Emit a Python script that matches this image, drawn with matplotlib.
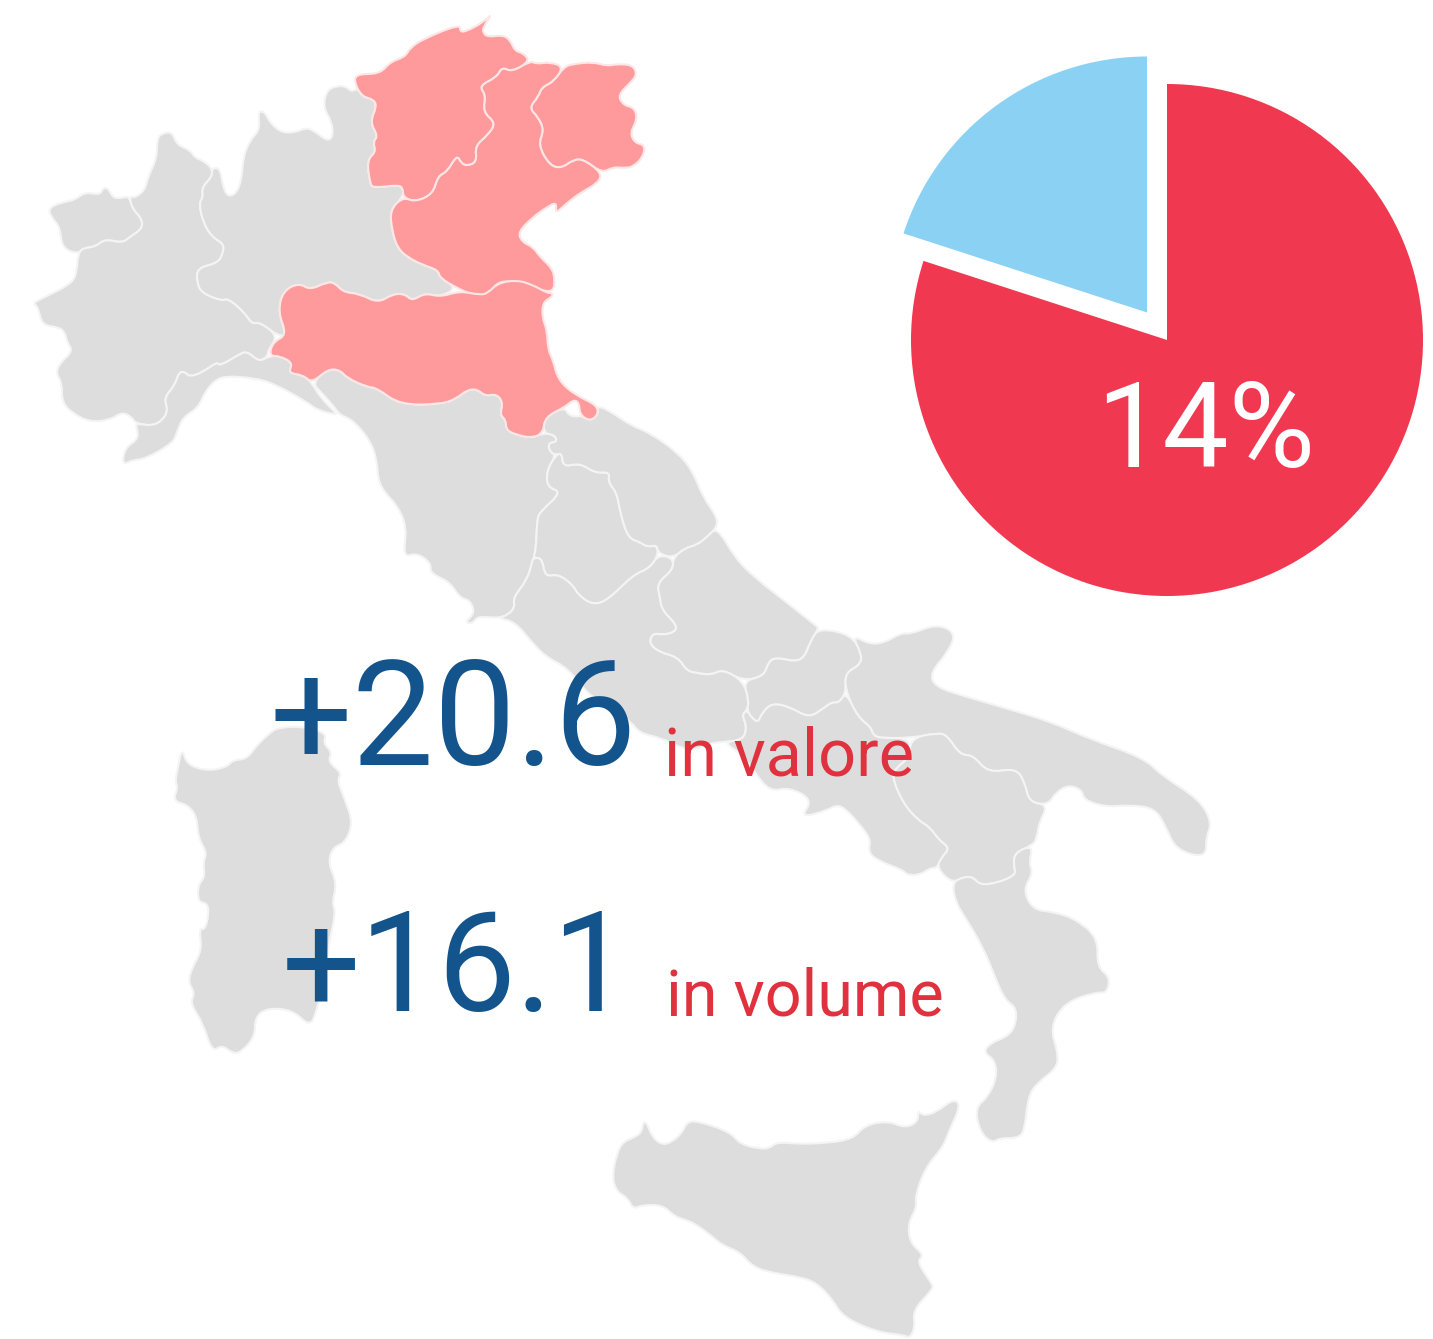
import matplotlib
matplotlib.use("Agg")
import matplotlib.pyplot as plt
from matplotlib.patches import PathPatch
from matplotlib.path import Path

# outlines of the regions in pixels
trentino = [(355,74),(380,74),(390,62),(405,57),(410,48),(423,39),(460,24),(460,32),(467,31),(482,23),(493,13),(483,27),(483,33),(488,37),(503,35),(510,40),(515,51),(523,53),(530,61),(512,72),(502,67),(497,77),(479,86),(486,95),(483,112),(496,123),(488,135),(475,146),(477,162),(467,166),(461,163),(457,155),(447,172),(438,176),(433,194),(415,202),(403,197),(403,188),(398,185),(373,188),(370,183),(367,160),(376,152),(373,142),(378,136),(370,122),(377,106),(373,99),(363,97),(355,85)]
friuli = [(564,67),(573,64),(593,62),(607,66),(617,64),(633,65),(637,75),(630,83),(618,95),(623,105),(635,108),(637,120),(630,133),(635,143),(645,145),(643,157),(633,167),(623,168),(613,167),(602,173),(583,159),(573,160),(562,168),(550,166),(538,145),(544,130),(538,117),(529,108),(538,97),(542,87),(553,82)]
veneto = [(530,61),(537,64),(550,62),(564,67),(553,82),(542,87),(538,97),(529,108),(538,117),(544,130),(538,145),(550,166),(562,168),(573,160),(583,159),(602,173),(598,183),(580,193),(567,203),(555,214),(557,202),(547,207),(533,217),(518,232),(522,242),(533,247),(540,257),(552,268),(555,280),(553,292),(540,290),(523,282),(507,281),(497,283),(487,295),(473,295),(457,288),(440,278),(438,270),(423,265),(407,257),(397,247),(392,230),(390,210),(403,197),(415,202),(433,194),(438,176),(447,172),(457,155),(461,163),(467,166),(477,162),(475,146),(488,135),(496,123),(483,112),(486,95),(479,86),(497,77),(502,67),(512,72)]
emilia = [(283,291),(299,283),(310,290),(327,282),(335,283),(343,292),(360,294),(378,303),(393,294),(405,294),(412,301),(425,293),(440,297),(460,291),(480,295),(488,293),(498,283),(517,280),(533,285),(547,293),(553,293),(552,297),(543,302),(542,317),(547,330),(548,350),(553,360),(558,380),(575,395),(597,405),(598,415),(590,421),(580,415),(579,402),(573,400),(565,407),(545,417),(543,433),(532,438),(517,435),(506,430),(506,420),(500,415),(503,403),(497,394),(485,396),(477,389),(467,390),(457,398),(443,404),(400,405),(377,388),(367,387),(347,378),(340,370),(328,369),(312,383),(303,375),(288,373),(293,363),(280,356),(269,356),(273,342),(287,335),(278,312)]
aosta = [(48,208),(63,202),(75,200),(85,192),(100,195),(103,188),(108,188),(113,198),(122,198),(129,196),(133,210),(141,217),(143,228),(130,237),(122,243),(105,239),(95,247),(83,248),(78,254),(62,248),(60,227),(52,218)]
piemonte = [(129,196),(135,198),(145,190),(148,177),(157,158),(157,138),(163,133),(172,132),(177,145),(190,150),(195,158),(202,160),(212,168),(212,177),(202,187),(203,198),(199,203),(203,222),(212,237),(224,244),(223,253),(218,263),(197,268),(197,283),(202,293),(222,301),(228,298),(245,313),(252,324),(260,322),(278,336),(268,350),(268,356),(259,362),(247,351),(238,355),(220,366),(217,362),(203,372),(190,377),(185,372),(179,372),(175,385),(164,398),(168,410),(163,420),(152,426),(135,423),(132,417),(122,412),(110,420),(90,422),(72,413),(62,402),(62,383),(56,373),(60,363),(73,351),(67,342),(65,332),(58,327),(42,325),(38,307),(33,303),(43,298),(73,283),(77,270),(78,254),(83,248),(95,247),(105,239),(122,243),(130,237),(143,228),(141,217),(133,210)]
lombardia = [(212,168),(220,168),(223,187),(228,197),(237,193),(242,177),(243,158),(250,140),(260,130),(258,111),(265,112),(270,123),(282,133),(297,132),(305,128),(313,130),(327,141),(333,137),(332,122),(323,107),(327,90),(337,86),(345,86),(352,92),(357,88),(363,97),(373,99),(377,106),(370,122),(378,136),(373,142),(376,152),(367,160),(370,183),(373,188),(398,185),(403,188),(403,197),(390,210),(392,230),(397,247),(407,257),(423,265),(438,270),(440,278),(457,288),(440,297),(425,293),(412,301),(405,294),(393,294),(378,303),(360,294),(343,292),(335,283),(327,282),(310,290),(299,283),(283,291),(278,312),(287,335),(278,336),(260,322),(252,324),(245,313),(228,298),(222,301),(202,293),(197,283),(197,268),(218,263),(223,253),(224,244),(212,237),(203,222),(199,203),(203,198),(202,187),(212,177)]
liguria = [(135,423),(152,426),(163,420),(168,410),(164,398),(175,385),(179,372),(185,372),(190,377),(203,372),(217,362),(220,366),(238,355),(247,351),(259,362),(269,356),(280,356),(293,363),(288,373),(303,375),(312,383),(320,397),(335,412),(337,415),(317,410),(307,402),(273,383),(253,378),(227,376),(215,380),(205,392),(198,408),(183,417),(177,432),(173,443),(145,459),(133,460),(122,465),(125,448),(137,440),(138,432)]
toscana = [(312,383),(328,369),(340,370),(347,378),(367,387),(377,388),(400,405),(443,404),(457,398),(467,390),(477,389),(485,396),(497,394),(503,403),(500,415),(506,420),(506,430),(517,435),(532,438),(543,433),(555,435),(557,442),(548,443),(550,452),(556,455),(547,470),(547,487),(562,492),(540,512),(537,520),(536,550),(532,563),(527,580),(513,598),(515,607),(508,615),(498,618),(487,617),(477,617),(472,624),(465,622),(475,613),(470,600),(460,598),(450,582),(430,573),(431,563),(417,553),(403,557),(407,527),(397,505),(385,493),(378,480),(377,460),(370,440),(353,420),(340,415),(335,408),(322,393)]
umbria = [(556,455),(562,453),(563,467),(580,463),(595,473),(610,472),(608,482),(617,493),(620,512),(628,538),(640,542),(647,547),(657,545),(658,555),(650,568),(633,575),(608,600),(593,605),(578,595),(573,585),(558,574),(545,577),(542,558),(533,558),(536,550),(537,520),(540,512),(562,492),(547,487),(547,470)]
marche = [(545,417),(565,407),(568,415),(577,417),(580,415),(590,421),(598,415),(597,405),(613,413),(630,425),(650,433),(677,452),(692,470),(703,497),(717,517),(717,527),(707,537),(697,545),(685,548),(673,558),(658,553),(657,545),(647,547),(640,542),(628,538),(620,512),(617,493),(608,482),(610,472),(595,473),(580,463),(563,467),(562,453),(556,455),(550,452),(548,443),(557,442),(555,435),(543,433)]
lazio = [(533,558),(542,558),(545,577),(558,574),(573,585),(578,595),(593,605),(608,600),(633,575),(650,568),(658,555),(673,558),(673,570),(657,583),(660,598),(662,610),(677,625),(675,632),(663,635),(653,633),(649,643),(659,652),(678,657),(687,671),(698,673),(711,675),(723,669),(743,681),(749,700),(747,710),(742,715),(747,727),(743,740),(723,742),(711,743),(690,752),(662,738),(639,733),(630,720),(590,697),(568,668),(546,657),(530,640),(515,622),(498,618),(508,615),(515,607),(513,598),(527,580),(532,563)]
abruzzo = [(707,537),(717,527),(735,558),(755,578),(790,605),(815,625),(819,628),(811,640),(802,663),(775,657),(768,663),(764,676),(743,681),(723,669),(711,675),(698,673),(687,671),(678,657),(659,652),(649,643),(653,633),(663,635),(675,632),(677,625),(662,610),(660,598),(657,583),(673,570),(673,558),(685,548),(697,545)]
molise = [(819,628),(852,635),(862,655),(860,665),(845,673),(846,692),(839,703),(832,702),(824,708),(809,718),(790,707),(772,703),(762,713),(758,723),(751,717),(747,710),(749,700),(743,681),(764,676),(768,663),(775,657),(802,663),(811,640)]
campania = [(747,710),(751,717),(758,723),(762,713),(772,703),(790,707),(809,718),(824,708),(832,702),(839,703),(846,692),(858,717),(871,727),(873,735),(881,738),(911,738),(909,758),(896,768),(892,777),(903,803),(918,820),(930,827),(939,840),(950,848),(941,858),(937,868),(930,868),(920,875),(907,875),(903,870),(881,862),(868,853),(871,840),(862,827),(845,808),(836,805),(828,810),(800,818),(813,800),(789,787),(770,792),(753,770),(743,755),(723,742),(743,740),(747,727),(742,715)]
puglia = [(852,635),(869,644),(884,643),(901,633),(911,634),(937,624),(956,633),(948,652),(930,673),(935,687),(967,697),(1012,710),(1054,723),(1087,738),(1144,758),(1161,775),(1200,800),(1212,823),(1206,837),(1206,858),(1176,850),(1166,827),(1155,808),(1129,805),(1106,807),(1084,800),(1082,790),(1069,785),(1056,792),(1048,805),(1029,802),(1025,783),(1016,768),(988,773),(973,755),(960,755),(947,735),(937,733),(911,738),(881,738),(873,735),(871,727),(858,717),(846,692),(845,673),(860,665),(862,655)]
basilicata = [(911,738),(937,733),(947,735),(960,755),(973,755),(988,773),(1016,768),(1025,783),(1029,802),(1048,805),(1039,823),(1037,837),(1033,845),(1014,853),(1014,867),(1016,875),(997,883),(980,885),(973,877),(963,877),(952,883),(937,868),(941,858),(950,848),(939,840),(930,827),(918,820),(903,803),(892,777),(896,768),(909,758)]
calabria = [(952,883),(963,877),(973,877),(980,885),(997,883),(1016,875),(1014,867),(1014,853),(1033,845),(1029,863),(1033,873),(1023,890),(1033,910),(1055,912),(1077,920),(1098,938),(1097,967),(1110,977),(1107,993),(1097,992),(1065,1002),(1050,1027),(1058,1053),(1057,1068),(1037,1083),(1028,1097),(1025,1127),(1020,1138),(1000,1138),(992,1143),(980,1132),(975,1108),(988,1097),(997,1077),(995,1060),(983,1052),(992,1042),(1005,1038),(1015,1028),(1017,1008),(1005,1000),(995,977),(983,947),(965,917),(956,903)]
sicilia = [(612,1177),(617,1153),(623,1142),(635,1137),(642,1132),(643,1122),(647,1123),(652,1137),(662,1145),(672,1142),(682,1133),(687,1122),(698,1121),(730,1132),(740,1144),(760,1149),(770,1148),(777,1142),(800,1144),(827,1143),(853,1139),(865,1125),(888,1121),(905,1128),(918,1122),(918,1110),(923,1116),(937,1112),(953,1099),(961,1105),(948,1133),(943,1147),(925,1168),(915,1197),(917,1207),(908,1223),(910,1243),(924,1255),(918,1260),(922,1270),(933,1285),(932,1290),(913,1310),(915,1327),(910,1338),(903,1335),(877,1332),(843,1317),(833,1300),(817,1283),(800,1277),(773,1273),(753,1267),(740,1252),(722,1245),(713,1237),(693,1222),(675,1217),(663,1205),(642,1205),(633,1209),(628,1198),(617,1192)]
sardegna = [(182,748),(187,765),(208,771),(227,767),(233,760),(247,759),(257,745),(270,733),(277,728),(300,726),(327,733),(323,743),(332,752),(328,762),(342,773),(337,780),(345,800),(353,823),(345,843),(333,847),(328,863),(337,883),(332,903),(336,912),(328,947),(326,975),(317,1010),(310,1027),(293,1010),(267,1008),(255,1017),(255,1037),(240,1053),(232,1053),(222,1045),(212,1052),(203,1023),(190,1003),(195,993),(188,982),(192,968),(202,950),(199,928),(205,930),(209,913),(207,903),(198,902),(198,885),(205,877),(203,863),(207,853),(198,837),(197,817),(188,805),(173,801),(178,787),(175,782),(178,767)]

grey_regions = [aosta, piemonte, lombardia, liguria, toscana, umbria, marche, lazio, abruzzo, molise, campania, puglia, basilicata, calabria, sicilia, sardegna]
pink_regions = [trentino, friuli, veneto, emilia]

pie_values = [80, 20]
pie_label = "14%"
value_labels = ["+20.6", "+16.1"]
unit_labels = ["in valore", "in volume"]


def rounded(points):
    # closed path with the corners rounded off, so the borders look less jagged
    verts = []
    codes = []
    n = len(points)
    for i in range(n):
        x0, y0 = points[i]
        x1, y1 = points[(i + 1) % n]
        mid = ((x0 + x1) / 2, (y0 + y1) / 2)
        if i == 0:
            px, py = points[-1]
            verts.append(((px + x0) / 2, (py + y0) / 2))
            codes.append(Path.MOVETO)
        verts += [(x0, y0), mid]
        codes += [Path.CURVE3, Path.CURVE3]
    verts.append(verts[0])
    codes.append(Path.CLOSEPOLY)
    return Path(verts, codes)


W, H = 1433, 1339
fig = plt.figure(figsize=(W / 100, H / 100), dpi=100)

# pie goes in its own axes, y up so it turns the right way
ax_pie = fig.add_axes([0, 0, 1, 1])
ax_pie.pie(pie_values, colors=["#f03851", "#8bd1f4"], startangle=90, counterclock=False,
           explode=[0, 34], center=(1167, H - 340), radius=256)
ax_pie.set_xlim(0, W)
ax_pie.set_ylim(0, H)
ax_pie.set_aspect("auto")
ax_pie.axis("off")

ax = fig.add_axes([0, 0, 1, 1])
ax.set_xlim(0, W)
ax.set_ylim(H, 0)
ax.axis("off")

for r in grey_regions:
    ax.add_patch(PathPatch(rounded(r), facecolor="#dddddd", edgecolor="#f4f4f4", linewidth=1.5))
for r in pink_regions:
    ax.add_patch(PathPatch(rounded(r), facecolor="#ff9a9c", edgecolor="#fce6e6", linewidth=1.5))

ax.text(270, 765, value_labels[0], color="#14548c", fontsize=105, family="Roboto", ha="left", va="baseline")
ax.text(282, 1011, value_labels[1], color="#14548c", fontsize=100, family="Roboto", ha="left", va="baseline")
ax.text(664, 776, unit_labels[0], color="#e0323e", fontsize=48, family="Roboto", ha="left", va="baseline")
ax.text(666, 1015, unit_labels[1], color="#e0323e", fontsize=46.5, family="Roboto", ha="left", va="baseline")
ax.text(1096, 467, pie_label, color="white", fontsize=85, family="Roboto", ha="left", va="baseline")

fig.savefig("out.png", dpi=100, facecolor="white")
